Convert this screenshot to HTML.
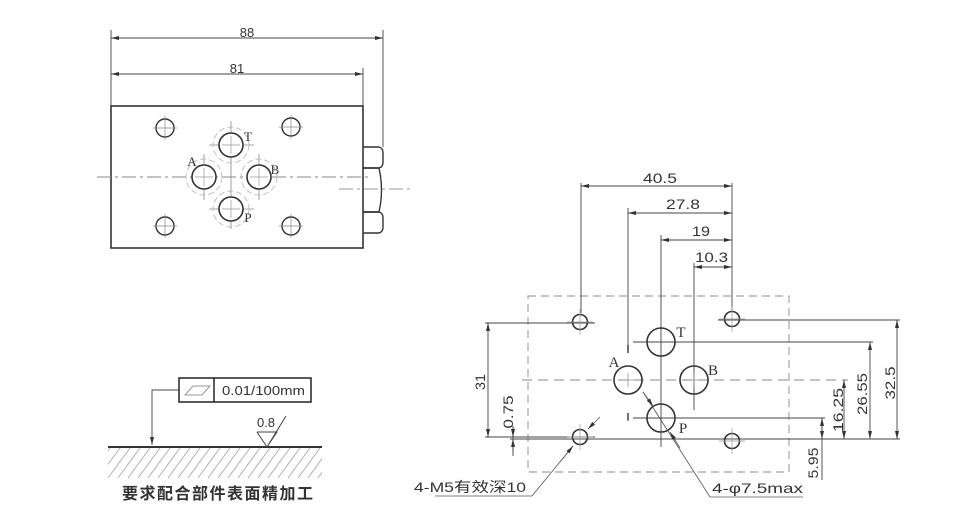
<!DOCTYPE html>
<html><head><meta charset="utf-8">
<style>
html,body{margin:0;padding:0;background:#fff;}
svg{display:block;}
.t{font-family:"Liberation Sans",Arial,sans-serif;fill:#333;}
.s{font-family:"Liberation Serif","Times New Roman",serif;fill:#333;}
.c{font-family:"Liberation Sans","Noto Sans CJK SC",sans-serif;fill:#333;}
</style></head>
<body>
<svg width="980" height="528" viewBox="0 0 980 528" xmlns="http://www.w3.org/2000/svg">
<defs>
<marker id="ar" viewBox="0 0 8 4" refX="8" refY="2" markerWidth="8" markerHeight="4" markerUnits="userSpaceOnUse" orient="auto-start-reverse">
<path d="M0,0 L8,2 L0,4 z" fill="#333"/>
</marker>
<clipPath id="hc"><rect x="108" y="448" width="214" height="30"/></clipPath>
</defs>
<rect width="980" height="528" fill="#fff"/>

<!-- ===== LEFT TOP VIEW ===== -->
<g stroke="#444" stroke-width="0.9" fill="none">
<line x1="111" y1="30" x2="111" y2="106"/>
<line x1="383" y1="30" x2="383" y2="147"/>
<line x1="363" y1="68" x2="363" y2="106"/>
<line x1="111" y1="38" x2="383" y2="38" marker-start="url(#ar)" marker-end="url(#ar)"/>
<line x1="111" y1="74" x2="363" y2="74" marker-start="url(#ar)" marker-end="url(#ar)"/>
</g>
<text class="t" x="247" y="37" font-size="13" text-anchor="middle">88</text>
<text class="t" x="237" y="73" font-size="13" text-anchor="middle">81</text>

<rect x="111" y="106" width="252" height="142" fill="none" stroke="#333" stroke-width="1.6"/>
<!-- nut -->
<g stroke="#333" stroke-width="1.4" fill="none">
<path d="M363,147 L379,147 Q383,148 383,153 L383,162 Q383,167 379,168 L363,168"/>
<path d="M363,168 L379,168 Q384,190 379,212 L363,212"/>
<path d="M363,212 L379,212 Q383,213 383,218 L383,227 Q383,232 379,233 L363,233"/>
</g>
<!-- centerlines -->
<line x1="97" y1="177" x2="370" y2="177" stroke="#888" stroke-width="0.9" stroke-dasharray="14,4,3,4"/>
<line x1="339" y1="189" x2="410" y2="189" stroke="#999" stroke-width="0.9" stroke-dasharray="14,4,3,4"/>
<!-- port crosshairs -->
<g stroke="#888" stroke-width="0.8">
<line x1="231" y1="121" x2="231" y2="229"/>
<line x1="209" y1="145" x2="254" y2="145"/>
<line x1="209" y1="209" x2="254" y2="209"/>
<line x1="204" y1="154" x2="204" y2="200"/>
<line x1="259" y1="154" x2="259" y2="200"/>
</g>
<!-- dashed rings -->
<g stroke="#bbb" stroke-width="0.9" fill="none" stroke-dasharray="6,3">
<circle cx="231" cy="145" r="18"/>
<circle cx="204" cy="177" r="18"/>
<circle cx="259" cy="177" r="18"/>
<circle cx="231" cy="209" r="18"/>
</g>
<g stroke="#333" stroke-width="1.6" fill="#fff">
<circle cx="231" cy="145" r="12"/>
<circle cx="204" cy="177" r="12"/>
<circle cx="259" cy="177" r="12"/>
<circle cx="231" cy="209" r="12"/>
</g>
<g stroke="#999" stroke-width="0.7">
<line x1="231" y1="136" x2="231" y2="154"/><line x1="222" y1="145" x2="240" y2="145"/>
<line x1="204" y1="168" x2="204" y2="186"/><line x1="195" y1="177" x2="213" y2="177"/>
<line x1="259" y1="168" x2="259" y2="186"/><line x1="250" y1="177" x2="268" y2="177"/>
<line x1="231" y1="200" x2="231" y2="218"/><line x1="222" y1="209" x2="240" y2="209"/>
</g>
<!-- mounting holes -->
<g stroke="#333" stroke-width="1.4" fill="none">
<circle cx="165" cy="128" r="9"/>
<circle cx="291" cy="127" r="9"/>
<circle cx="165" cy="226" r="9"/>
<circle cx="291" cy="226" r="9"/>
</g>
<g stroke="#888" stroke-width="0.7">
<line x1="165" y1="116" x2="165" y2="140"/><line x1="153" y1="128" x2="177" y2="128"/>
<line x1="291" y1="115" x2="291" y2="139"/><line x1="279" y1="127" x2="303" y2="127"/>
<line x1="165" y1="214" x2="165" y2="238"/><line x1="153" y1="226" x2="177" y2="226"/>
<line x1="291" y1="214" x2="291" y2="238"/><line x1="279" y1="226" x2="303" y2="226"/>
</g>
<text class="s" x="248" y="141" font-size="13" text-anchor="middle">T</text>
<text class="s" x="192" y="166" font-size="13" text-anchor="middle">A</text>
<text class="s" x="275" y="174" font-size="13" text-anchor="middle">B</text>
<text class="s" x="248" y="222" font-size="13" text-anchor="middle">P</text>

<!-- ===== BOTTOM LEFT SURFACE NOTE ===== -->
<rect x="179" y="378" width="132" height="24" fill="none" stroke="#222" stroke-width="1.5"/>
<line x1="214" y1="378" x2="214" y2="402" stroke="#222" stroke-width="1.5"/>
<polygon points="185,395 193,386 210,386 202,395" fill="none" stroke="#999" stroke-width="1"/>
<text class="t" x="222" y="395" font-size="13" textLength="83" lengthAdjust="spacingAndGlyphs">0.01/100mm</text>
<polyline points="179,390 152,390 152,445" fill="none" stroke="#444" stroke-width="0.9" marker-end="url(#ar)"/>
<line x1="108" y1="447" x2="322" y2="447" stroke="#333" stroke-width="2"/>
<g clip-path="url(#hc)" stroke="#aaa" stroke-width="0.9">
<line x1="88" y1="478" x2="110" y2="448"/><line x1="98" y1="478" x2="120" y2="448"/>
<line x1="108" y1="478" x2="130" y2="448"/><line x1="118" y1="478" x2="140" y2="448"/>
<line x1="128" y1="478" x2="150" y2="448"/><line x1="138" y1="478" x2="160" y2="448"/>
<line x1="148" y1="478" x2="170" y2="448"/><line x1="158" y1="478" x2="180" y2="448"/>
<line x1="168" y1="478" x2="190" y2="448"/><line x1="178" y1="478" x2="200" y2="448"/>
<line x1="188" y1="478" x2="210" y2="448"/><line x1="198" y1="478" x2="220" y2="448"/>
<line x1="208" y1="478" x2="230" y2="448"/><line x1="218" y1="478" x2="240" y2="448"/>
<line x1="228" y1="478" x2="250" y2="448"/><line x1="238" y1="478" x2="260" y2="448"/>
<line x1="248" y1="478" x2="270" y2="448"/><line x1="258" y1="478" x2="280" y2="448"/>
<line x1="268" y1="478" x2="290" y2="448"/><line x1="278" y1="478" x2="300" y2="448"/>
<line x1="288" y1="478" x2="310" y2="448"/><line x1="298" y1="478" x2="320" y2="448"/>
<line x1="308" y1="478" x2="330" y2="448"/><line x1="318" y1="478" x2="340" y2="448"/>
</g>
<polyline points="257,432 277,432 267,447 286,416" fill="none" stroke="#444" stroke-width="1"/>
<line x1="257" y1="432" x2="267" y2="447" stroke="#444" stroke-width="1"/>
<text class="t" x="266" y="427" font-size="13" text-anchor="middle">0.8</text>
<text class="c" x="122" y="499" font-size="16" font-weight="bold" textLength="191" lengthAdjust="spacing">要求配合部件表面精加工</text>

<!-- ===== RIGHT MOUNTING PATTERN ===== -->
<rect x="528" y="296" width="261" height="176" fill="none" stroke="#888" stroke-width="0.9" stroke-dasharray="8,5"/>
<line x1="522" y1="380" x2="848" y2="380" stroke="#888" stroke-width="0.9" stroke-dasharray="10,6"/>

<g stroke="#444" stroke-width="0.9" fill="none">
<!-- vertical extension lines -->
<line x1="581" y1="183" x2="581" y2="313"/>
<line x1="732" y1="183" x2="732" y2="310"/>
<line x1="628" y1="208" x2="628" y2="345"/>
<line x1="628" y1="413" x2="628" y2="421"/>
<line x1="661" y1="235" x2="661" y2="447"/>
<line x1="694" y1="263" x2="694" y2="410"/>
<!-- horizontal dims -->
<line x1="581" y1="186" x2="732" y2="186" marker-start="url(#ar)" marker-end="url(#ar)"/>
<line x1="628" y1="213" x2="732" y2="213" marker-start="url(#ar)" marker-end="url(#ar)"/>
<line x1="661" y1="240" x2="732" y2="240" marker-start="url(#ar)" marker-end="url(#ar)"/>
<line x1="694" y1="267" x2="732" y2="267" marker-start="url(#ar)" marker-end="url(#ar)"/>
<!-- horizontal extension lines -->
<line x1="485" y1="323" x2="595" y2="323"/>
<line x1="485" y1="437" x2="595" y2="437"/>
<line x1="510" y1="439" x2="900" y2="439"/>
<line x1="718" y1="320" x2="900" y2="320"/>
<line x1="633" y1="342" x2="873" y2="342"/>
<line x1="633" y1="418" x2="825" y2="418"/>
<!-- vertical dims -->
<line x1="897" y1="320" x2="897" y2="439" marker-start="url(#ar)" marker-end="url(#ar)"/>
<line x1="870" y1="342" x2="870" y2="439" marker-start="url(#ar)" marker-end="url(#ar)"/>
<line x1="844" y1="380" x2="844" y2="439" marker-start="url(#ar)" marker-end="url(#ar)"/>
<line x1="488" y1="323" x2="488" y2="437" marker-start="url(#ar)" marker-end="url(#ar)"/>
<line x1="822" y1="418" x2="822" y2="480"/>
<line x1="822" y1="430" x2="822" y2="418" marker-end="url(#ar)"/>
<line x1="822" y1="428" x2="822" y2="439" marker-end="url(#ar)"/>
<line x1="513" y1="426" x2="513" y2="456"/>
<line x1="513" y1="426" x2="513" y2="437" marker-end="url(#ar)"/>
<line x1="513" y1="452" x2="513" y2="439" marker-end="url(#ar)"/>
</g>

<!-- port holes -->
<g stroke="#333" stroke-width="1.6" fill="none">
<circle cx="661" cy="342" r="14"/>
<circle cx="628" cy="380" r="14"/>
<circle cx="694" cy="380" r="14"/>
<circle cx="661" cy="418" r="14"/>
</g>
<g stroke="#888" stroke-width="0.7">
<line x1="621" y1="380" x2="635" y2="380"/><line x1="628" y1="373" x2="628" y2="387"/>
<line x1="687" y1="380" x2="701" y2="380"/><line x1="694" y1="373" x2="694" y2="387"/>
</g>
<line x1="628" y1="345" x2="628" y2="353" stroke="#333" stroke-width="1.4"/>
<line x1="628" y1="413" x2="628" y2="420" stroke="#333" stroke-width="1.4"/>
<!-- mounting holes -->
<g stroke="#333" stroke-width="1.6" fill="none">
<circle cx="580" cy="322" r="7.5"/>
<circle cx="732" cy="319" r="7.5"/>
<circle cx="580" cy="437" r="7.5"/>
<circle cx="732" cy="441" r="7.5"/>
</g>
<g stroke="#999" stroke-width="0.7">
<line x1="580" y1="309" x2="580" y2="335"/><line x1="567" y1="322" x2="593" y2="322"/>
<line x1="732" y1="306" x2="732" y2="332"/><line x1="719" y1="319" x2="745" y2="319"/>
<line x1="580" y1="424" x2="580" y2="450"/><line x1="567" y1="437" x2="593" y2="437"/>
<line x1="732" y1="428" x2="732" y2="454"/><line x1="719" y1="441" x2="745" y2="441"/>
</g>

<!-- leaders -->
<g stroke="#555" stroke-width="0.8" fill="none">
<polyline points="643,392 710,497 803,497"/>
<line x1="643" y1="392" x2="653" y2="406" marker-end="url(#ar)"/>
<line x1="680" y1="448" x2="670" y2="432" marker-end="url(#ar)"/>
<polyline points="573,446 532,496 435,496"/>
<line x1="560" y1="462" x2="573" y2="446" marker-end="url(#ar)"/>
<line x1="600" y1="417" x2="588" y2="429" marker-end="url(#ar)"/>
</g>

<!-- labels -->
<text class="s" x="681" y="337" font-size="15" text-anchor="middle">T</text>
<text class="s" x="614" y="367" font-size="15" text-anchor="middle">A</text>
<text class="s" x="713" y="375" font-size="15" text-anchor="middle">B</text>
<text class="s" x="683" y="433" font-size="15" text-anchor="middle">P</text>

<text class="t" x="643" y="183" font-size="14" textLength="34" lengthAdjust="spacingAndGlyphs">40.5</text>
<text class="t" x="666" y="209" font-size="14" textLength="34" lengthAdjust="spacingAndGlyphs">27.8</text>
<text class="t" x="692" y="236" font-size="14" textLength="18" lengthAdjust="spacingAndGlyphs">19</text>
<text class="t" x="695" y="262" font-size="14" textLength="33" lengthAdjust="spacingAndGlyphs">10.3</text>

<g class="t" font-size="14">
<text transform="translate(480,382) rotate(-90)" x="0" y="5" text-anchor="middle" textLength="16" lengthAdjust="spacingAndGlyphs">31</text>
<text transform="translate(508,412) rotate(-90)" x="0" y="5" text-anchor="middle" textLength="33" lengthAdjust="spacingAndGlyphs">0.75</text>
<text transform="translate(890,383) rotate(-90)" x="0" y="5" text-anchor="middle" textLength="33" lengthAdjust="spacingAndGlyphs">32.5</text>
<text transform="translate(862,394) rotate(-90)" x="0" y="5" text-anchor="middle" textLength="42" lengthAdjust="spacingAndGlyphs">26.55</text>
<text transform="translate(838,410) rotate(-90)" x="0" y="5" text-anchor="middle" textLength="44" lengthAdjust="spacingAndGlyphs">16.25</text>
<text transform="translate(813,463) rotate(-90)" x="0" y="5" text-anchor="middle" textLength="31" lengthAdjust="spacingAndGlyphs">5.95</text>
</g>

<text class="t" x="712" y="493" font-size="14" textLength="91" lengthAdjust="spacingAndGlyphs">4-φ7.5max</text>
<text class="c" x="414" y="492" font-size="14" textLength="112" lengthAdjust="spacingAndGlyphs">4-M5有效深10</text>
</svg>
</body></html>
